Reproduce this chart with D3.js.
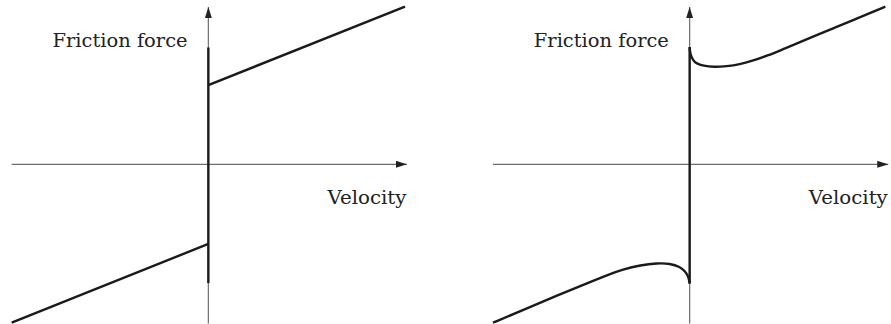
<!DOCTYPE html>
<html>
<head>
<meta charset="utf-8">
<script src="https://cdn.jsdelivr.net/npm/d3@7"></script>
<style>
  html, body { margin: 0; padding: 0; background: #fff; }
  svg { display: block; }
</style>
</head>
<body>
<svg id="chart" width="891" height="324"></svg>
<script>
// Friction force vs. velocity: Coulomb + viscous (left) and Stribeck (right).
// Values are in arbitrary velocity / force units.

const velocityExtent = [-2, 2.02];   // horizontal axis span
const forceExtent = [-3.98, 3.93];   // vertical axis span

// Left panel: Coulomb + viscous friction
const coulombUpper = [[0, 1.98], [2, 3.94]];
const coulombLower = [[-2, -3.96], [0, -1.99]];
const coulombStatic = [2.92, -2.97];

// Right panel: Stribeck friction
const stribeckUpper = [
  [0, 2.93], [0.003, 2.84], [0.008, 2.76], [0.022, 2.66], [0.045, 2.57],
  [0.073, 2.52], [0.14, 2.46], [0.24, 2.43], [0.38, 2.45], [0.51, 2.50],
  [0.63, 2.58], [0.80, 2.72], [0.97, 2.90], [1.14, 3.07], [1.31, 3.25],
  [1.48, 3.42], [1.65, 3.59], [1.82, 3.77], [1.99, 3.94]
];
const stribeckLower = [
  [-2, -3.96], [-1.69, -3.64], [-1.35, -3.28], [-1.01, -2.94], [-0.84, -2.77],
  [-0.68, -2.63], [-0.50, -2.52], [-0.33, -2.47], [-0.20, -2.48], [-0.097, -2.56],
  [-0.046, -2.68], [-0.022, -2.77], [-0.010, -2.85], [-0.004, -2.92], [0, -2.98]
];
const stribeckStatic = [2.93, -2.98];

const axisLabels = { x: "Velocity", y: "Friction force" };

const panels = [
  { offset: 0, upper: coulombUpper, lower: coulombLower, stat: coulombStatic, curve: d3.curveLinear },
  { offset: 481.3, upper: stribeckUpper, lower: stribeckLower, stat: stribeckStatic, curve: d3.curveBasis }
];

const svg = d3.select("#chart");

svg.append("defs").append("marker")
  .attr("id", "arrow")
  .attr("viewBox", "0 0 11 7")
  .attr("refX", 11).attr("refY", 3.5)
  .attr("markerWidth", 11).attr("markerHeight", 7)
  .attr("markerUnits", "userSpaceOnUse")
  .attr("orient", "auto")
  .append("path")
  .attr("d", "M0,0 L11,3.5 L0,7 Z")
  .attr("fill", "#222");

panels.forEach(p => {
  const x = d3.scaleLinear().domain([-2, 2]).range([11.7 + p.offset, 405 + p.offset]);
  const y = d3.scaleLinear().domain([-4, 4]).range([324.3, 4.3]);
  const g = svg.append("g");

  // axes
  g.append("line")
    .attr("x1", x(velocityExtent[0])).attr("x2", x(velocityExtent[1]))
    .attr("y1", y(0)).attr("y2", y(0))
    .attr("stroke", "#6e6e6e").attr("stroke-width", 1.2)
    .attr("marker-end", "url(#arrow)");
  g.append("line")
    .attr("x1", x(0)).attr("x2", x(0))
    .attr("y1", y(forceExtent[0])).attr("y2", y(forceExtent[1]))
    .attr("stroke", "#6e6e6e").attr("stroke-width", 1.2)
    .attr("marker-end", "url(#arrow)");

  // static friction jump at zero velocity
  g.append("line")
    .attr("x1", x(0)).attr("x2", x(0))
    .attr("y1", y(p.stat[0])).attr("y2", y(p.stat[1]))
    .attr("stroke", "#1a1a1a").attr("stroke-width", 2.4);

  const line = d3.line().x(d => x(d[0])).y(d => y(d[1])).curve(p.curve);
  [p.upper, p.lower].forEach(s => {
    g.append("path")
      .attr("d", line(s))
      .attr("fill", "none")
      .attr("stroke", "#1a1a1a")
      .attr("stroke-width", 2.4)
      .attr("stroke-linejoin", "round");
  });

  // labels
  g.append("text")
    .attr("x", x(0) - 20.8).attr("y", 47)
    .attr("text-anchor", "end")
    .attr("font-family", "'DejaVu Serif', serif")
    .attr("font-size", 19)
    .attr("fill", "#222")
    .attr("textLength", 135).attr("lengthAdjust", "spacingAndGlyphs")
    .text(axisLabels.y);
  g.append("text")
    .attr("x", x(2) + 1.5).attr("y", 204)
    .attr("text-anchor", "end")
    .attr("font-family", "'DejaVu Serif', serif")
    .attr("font-size", 19)
    .attr("fill", "#222")
    .attr("textLength", 79).attr("lengthAdjust", "spacingAndGlyphs")
    .text(axisLabels.x);
});
</script>
</body>
</html>
